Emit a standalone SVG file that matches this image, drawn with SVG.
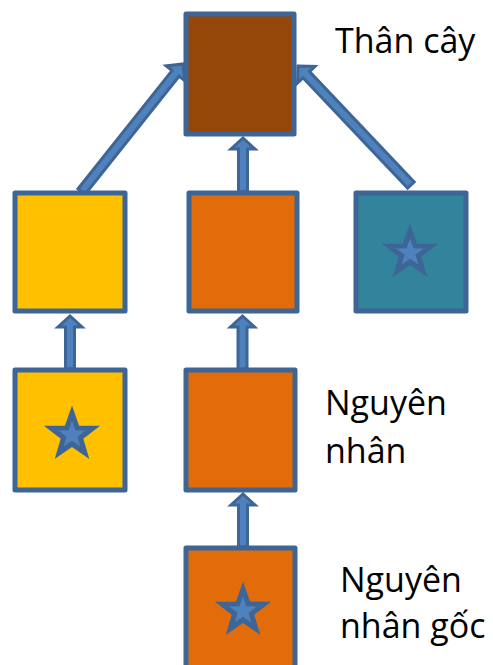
<svg xmlns="http://www.w3.org/2000/svg" width="493" height="665" viewBox="0 0 493 665">
<style>
.box{stroke:#3D6596;stroke-width:5;stroke-linejoin:round}
.arr{fill:#4F81BD;stroke:#3D6596;stroke-width:3;stroke-linejoin:miter}
.star{fill:#4F81BD;stroke:#3D6596;stroke-width:5;stroke-linejoin:miter}
.lbl{font-family:"Open Sans","Liberation Sans",sans-serif;font-size:34px;fill:#000}
</style>
<defs>
<path id="star" d="M0,-22 L5.2,-7.1 L20.9,-6.8 L8.4,2.7 L12.9,17.8 L0,8.9 L-12.9,17.8 L-8.4,2.7 L-20.9,-6.8 L-5.2,-7.1 Z"/>
</defs>
<g id="connectors">
<path class="arr" transform="translate(70,316)" d="M0,0 L12,11 L4.5,11 L4.5,53 L-4.5,53 L-4.5,11 L-12,11 Z"/>
<path class="arr" transform="translate(242.5,316)" d="M0,0 L12,11 L4.5,11 L4.5,53 L-4.5,53 L-4.5,11 L-12,11 Z"/>
<path class="arr" transform="translate(243,494)" d="M0,0 L12,11 L4.5,11 L4.5,53 L-4.5,53 L-4.5,11 L-12,11 Z"/>
<path class="arr" transform="translate(243,138)" d="M0,0 L12,11 L4.5,11 L4.5,54 L-4.5,54 L-4.5,11 L-12,11 Z"/>
<path class="arr" transform="translate(183,64) rotate(38.5)" d="M0,0 L12,12 L4.5,12 L4.5,163 L-4.5,163 L-4.5,12 L-12,12 Z"/>
<path class="arr" transform="translate(298,66) rotate(-43.5)" d="M0,0 L12,12 L4.5,12 L4.5,164 L-4.5,164 L-4.5,12 L-12,12 Z"/>
</g>
<g id="node-top"><rect class="box" x="186" y="14" width="108" height="120" fill="#944709"/></g>
<g id="node-r2-left"><rect class="box" x="15" y="193" width="110" height="118" fill="#FFC000"/></g>
<g id="node-r2-mid"><rect class="box" x="189" y="193" width="108" height="118" fill="#E36C0A"/></g>
<g id="node-r2-right"><rect class="box" x="356" y="193" width="110" height="118" fill="#31849B"/><use href="#star" class="star" x="410" y="253"/></g>
<g id="node-r3-left"><rect class="box" x="15" y="370" width="110" height="120" fill="#FFC000"/><use href="#star" class="star" x="72" y="435"/></g>
<g id="node-r3-mid"><rect class="box" x="186" y="370" width="109" height="120" fill="#E36C0A"/></g>
<g id="node-r4-mid"><rect class="box" x="186" y="548" width="109" height="125" fill="#E36C0A"/><use href="#star" class="star" x="243" y="611"/></g>
<g id="labels">
<text class="lbl" x="335" y="53" font-size="35">Thân cây</text>
<text class="lbl" x="325" y="415">Nguyên</text>
<text class="lbl" x="325" y="463">nhân</text>
<text class="lbl" x="340" y="592">Nguyên</text>
<text class="lbl" x="340" y="638">nhân gốc</text>
</g>
</svg>
